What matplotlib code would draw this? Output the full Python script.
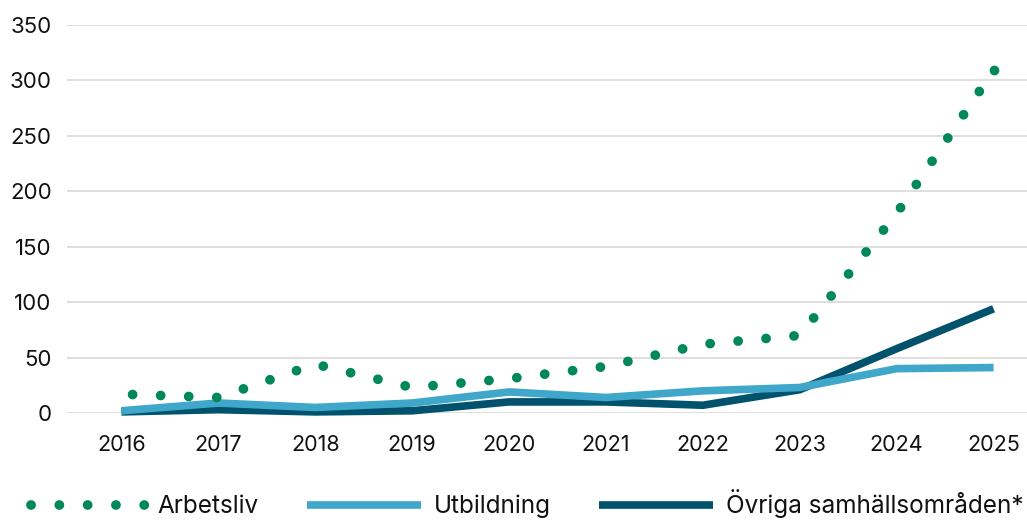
import matplotlib
matplotlib.use("Agg")
import matplotlib.pyplot as plt
import numpy as np
from matplotlib.lines import Line2D

# data
years = ["2016", "2017", "2018", "2019", "2020", "2021", "2022", "2023", "2024", "2025"]
arbetsliv = [17, 14, 44, 23, 31, 42, 62, 70, 180, 309]
utbildning = [2, 9, 5, 9, 19, 14, 20, 23, 40, 41]
ovriga = [1, 3, 1, 2, 10, 10, 7, 21, 58, 94]

series_names = ["Arbetsliv", "Utbildning", "Övriga samhällsområden*"]
yticks = [0, 50, 100, 150, 200, 250, 300, 350]

green = "#00875A"
light_blue = "#3FA7C9"
dark_blue = "#00526D"

plt.rcParams['font.family'] = ['Inter', 'DejaVu Sans']

DPI = 100
fig = plt.figure(figsize=(10.27, 5.2), dpi=DPI)
ax = fig.add_axes([67 / 1027, 1 - 413 / 520, 1 - 67 / 1027, (413 - 25) / 520])

x = list(range(len(years)))

ax.set_xlim(-0.562, 9.345)
ax.set_ylim(0, 350)

#Work out the dot spacing so the last dot lands on the final value
dot_lw = 7.0
dot_px = dot_lw * DPI / 72
pts = ax.transData.transform(np.column_stack([x, arbetsliv]))
path_len = np.sum(np.hypot(*np.diff(pts, axis=0).T)) - 1.0
first_dot = 11.0
n_gaps = max(1, round((path_len - first_dot) / 28.0))
period = (path_len - first_dot) / n_gaps
dot_style = ((period - first_dot) / dot_px, (0.01, period / dot_px))

ax.plot(x, ovriga, color=dark_blue, lw=5.5, solid_capstyle='butt',
        solid_joinstyle='miter', zorder=3, clip_on=False)
ax.plot(x, utbildning, color=light_blue, lw=5.5, solid_capstyle='butt',
        solid_joinstyle='miter', zorder=4, clip_on=False)
ax.plot(x, arbetsliv, color=green, lw=dot_lw, linestyle=dot_style,
        dash_capstyle='round', zorder=5, clip_on=False,
        marker='o', markevery=[len(x) - 1], markersize=dot_lw,
        markeredgewidth=0, markerfacecolor=green)

ax.set_xticks(x)
ax.set_xticklabels(years)
ax.set_yticks(yticks)

ax.grid(axis='y', color='#D9D9D9', lw=1.2)
ax.set_axisbelow(True)
for s in ax.spines.values():
    s.set_visible(False)
ax.tick_params(axis='both', length=0, colors='#111111')
ax.tick_params(axis='x', labelsize=15.5, pad=16)
ax.tick_params(axis='y', labelsize=16, pad=11)

#Legend with its own handles so the dots start at the handle edge
handles = [
    Line2D([], [], color=green, lw=dot_lw, linestyle=(0, (0.01, 28.2 / dot_px)),
           dash_capstyle='round'),
    Line2D([], [], color=light_blue, lw=5.5, solid_capstyle='butt'),
    Line2D([], [], color=dark_blue, lw=5.5, solid_capstyle='butt'),
]
fig.legend(handles, series_names, loc='center left',
           bbox_to_anchor=(31 / 1027, 1 - 504 / 520), ncol=3, frameon=False,
           fontsize=17.5, handlelength=4.7, handletextpad=0.5, columnspacing=2.0,
           borderpad=0, borderaxespad=0, labelcolor='#111111')

fig.savefig("out.png", dpi=DPI)
